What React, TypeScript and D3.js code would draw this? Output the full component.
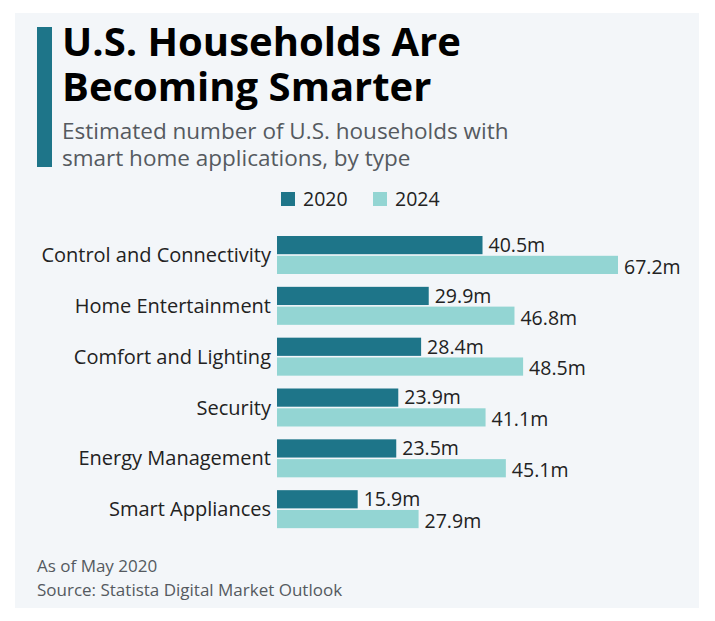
import React from "react";
import * as d3 from "d3";

const categories = [
  "Control and Connectivity",
  "Home Entertainment",
  "Comfort and Lighting",
  "Security",
  "Energy Management",
  "Smart Appliances",
];
const values2020 = [40.5, 29.9, 28.4, 23.9, 23.5, 15.9];
const values2024 = [67.2, 46.8, 48.5, 41.1, 45.1, 27.9];
const seriesNames = ["2020", "2024"];
const colors = ["#1e7589", "#93d5d3"];
const titleText = "U.S. Households Are Becoming Smarter";
const subtitleText = "Estimated number of U.S. households with smart home applications, by type";
const noteText = "As of May 2020";
const sourceText = "Source: Statista Digital Market Outlook";

const W = 715;
const H = 621;
const FONT = "'Open Sans', 'Noto Sans', sans-serif";

export default function App() {
  const x = d3.scaleLinear().domain([0, 67.2]).range([277, 618]);
  const y = d3.scaleBand<string>().domain(categories).range([236, 541]).paddingInner(0).paddingOuter(0);
  const inner = d3.scaleBand<string>().domain(seriesNames).range([0, 38]).paddingInner(0.08);
  const series = [values2020, values2024];
  return (
    <svg width={W} height={H} style={{ position: "absolute", left: 0, top: 0 }}>
      <rect x={0} y={0} width={W} height={H} fill="#ffffff" />
      <rect x={15} y={13} width={684} height={595} fill="#f3f6f9" />
      <rect x={37} y={27} width={15} height={140} fill={colors[0]} />
      <foreignObject x={62} y={18} width={450} height={100}>
        <div
          style={{
            fontFamily: FONT,
            fontWeight: 700,
            fontSize: "40px",
            lineHeight: "45px",
            color: "#000",
            margin: 0,
            width: "450px",
          }}
        >
          {titleText}
        </div>
      </foreignObject>
      <foreignObject x={62} y={117} width={470} height={60}>
        <div
          style={{
            fontFamily: FONT,
            fontSize: "22.5px",
            lineHeight: "27px",
            color: "#555a60",
            margin: 0,
            width: "460px",
          }}
        >
          {subtitleText}
        </div>
      </foreignObject>
      {seriesNames.map((s, i) => (
        <g key={s} transform={`translate(${281 + i * 92},192)`}>
          <rect x={0} y={0} width={14} height={14} fill={colors[i]} />
          <text x={22} y={14} fontFamily={FONT} fontSize={19.5} fill="#222">
            {s}
          </text>
        </g>
      ))}
      {categories.map((c, ci) => {
        const y0 = y(c)!;
        return (
          <g key={c}>
            <text x={271} y={y0 + 19} dy="0.35em" textAnchor="end" fontFamily={FONT} fontSize={20} fill="#222">
              {c}
            </text>
            {seriesNames.map((s, si) => {
              const v = series[si][ci];
              const by = y0 + inner(s)!;
              const bh = inner.bandwidth();
              return (
                <g key={s}>
                  <rect x={x(0)} y={by} width={x(v) - x(0)} height={bh} fill={colors[si]} />
                  <text x={x(v) + 6} y={by + bh / 2 + (si === 0 ? 0 : 2)} dy="0.35em" fontFamily={FONT} fontSize={19.5} fill="#222">
                    {v.toFixed(1)}m
                  </text>
                </g>
              );
            })}
          </g>
        );
      })}
      <text x={37} y={572} fontFamily={FONT} fontSize={17} fill="#555a60">
        {noteText}
      </text>
      <text x={37} y={596} fontFamily={FONT} fontSize={17} fill="#555a60">
        {sourceText}
      </text>
    </svg>
  );
}
